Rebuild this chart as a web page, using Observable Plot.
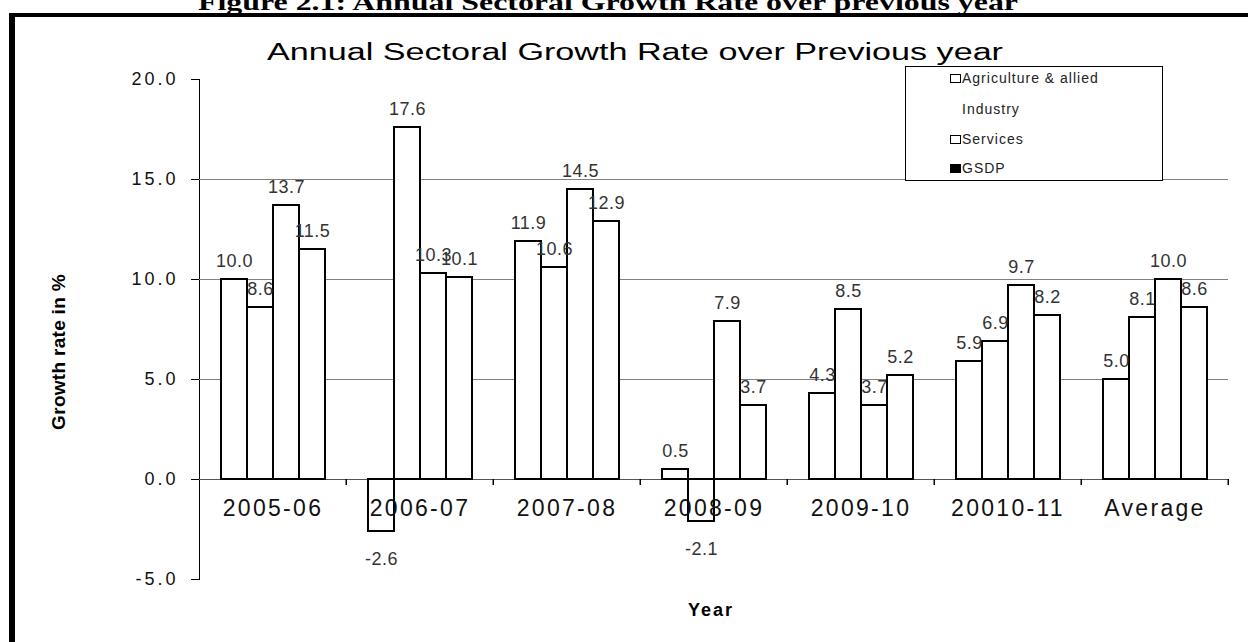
<!DOCTYPE html>
<html>
<head>
<meta charset="utf-8">
<script src="https://cdn.jsdelivr.net/npm/d3@7"></script>
<script src="https://cdn.jsdelivr.net/npm/@observablehq/plot@0.6"></script>
<style>
  body { margin: 0; background: #fff; }
  #wrap { position: relative; width: 1248px; height: 642px; overflow: hidden; background: #fff;
          font-family: "Liberation Sans", Arial, sans-serif; color: #000; }
  #chart { position: absolute; left: 0; top: 0; }
  #frame { position: absolute; left: 9px; top: 13px; width: 1400px; height: 800px;
           border-left: 6px solid #000; border-top: 4px solid #000; pointer-events: none; }
  .scaled { position: absolute; white-space: nowrap; transform-origin: 0 0; line-height: 1; }
  #figtitle { font-family: "Liberation Serif", "Times New Roman", serif; font-weight: bold; font-size: 24px; }
  #title { font-size: 23px; }
  #ytitle { position: absolute; left: 59px; top: 352px; white-space: nowrap; font-weight: bold;
            font-size: 19px; letter-spacing: 0.3px; transform: translate(-50%, -50%) rotate(-90deg); }
  #xtitle { position: absolute; left: 711px; top: 610px; white-space: nowrap; font-weight: bold;
            font-size: 18px; letter-spacing: 2px; transform: translate(-50%, -50%); }
  #legend { position: absolute; left: 905px; top: 66px; width: 256px; height: 113px;
            border: 1px solid #000; background: #fff; font-size: 14px; letter-spacing: 1px; color: #222; }
  .li { position: absolute; left: 44px; white-space: nowrap; transform: translateY(-50%); display: flex; align-items: center; }
  .sw { display: inline-block; width: 9px; height: 7px; border: 1.5px solid #000; margin-right: 1px; background: #fff; }
  .sw.none { border-color: transparent; background: transparent; }
  .sw.black { background: #000; }
  [aria-label="y-axis tick label"] text { font-size: 18px; letter-spacing: 3px; fill: #111; }
  [aria-label="y-axis tick"] { stroke: #000; }
</style>
</head>
<body>
<div id="wrap">
  <div id="chart"></div>
  <div id="figtitle" class="scaled">Figure 2.1: Annual Sectoral Growth Rate over previous year</div>
  <div id="title" class="scaled">Annual Sectoral Growth Rate over Previous year</div>
  <div id="ytitle">Growth rate in %</div>
  <div id="xtitle">Year</div>
  <div id="legend"></div>
  <div id="frame"></div>
</div>
<script>
// ---- data ----
const years = ["2005-06", "2006-07", "2007-08", "2008-09", "2009-10", "20010-11", "Average"];
const sectors = ["Agriculture & allied", "Industry", "Services", "GSDP"];
const agriculture = [10.0, -2.6, 11.9, 0.5, 4.3, 5.9, 5.0];
const industry    = [8.6, 17.6, 10.6, -2.1, 8.5, 6.9, 8.1];
const services    = [13.7, 10.3, 14.5, 7.9, 3.7, 9.7, 10.0];
const gsdp        = [11.5, 10.1, 12.9, 3.7, 5.2, 8.2, 8.6];
const yTicks = [-5, 0, 5, 10, 15, 20];
const gridValues = [5, 10, 15];
const legendMarkers = ["open", "none", "open", "black"];

const seriesValues = [agriculture, industry, services, gsdp];
const data = years.flatMap((year, i) =>
  sectors.map((sector, j) => ({year, sector, value: seriesValues[j][i]})));

// ---- layout ----
const W = 1248, H = 642, mL = 199, mR = 20, mT = 79, mB = 63;
const padOuter = 0.774;
const facetW = (W - mL - mR) / years.length;
const step = facetW / (sectors.length + 2 * padOuter);
const edgeDx = facetW - (padOuter + sectors.length - 0.5) * step;

const chart = Plot.plot({
  width: W, height: H,
  marginLeft: mL, marginRight: mR, marginTop: mT, marginBottom: mB,
  style: {background: "transparent", fontFamily: "Liberation Sans, Arial, sans-serif", overflow: "visible"},
  fx: {domain: years, padding: 0, axis: null, label: null},
  x: {domain: sectors, paddingInner: 0, paddingOuter: padOuter, axis: null, label: null},
  y: {domain: [-5, 20], ticks: yTicks, tickSize: 8, tickPadding: 13, tickFormat: d => d.toFixed(1),
      line: true, label: null, axis: "left"},
  marks: [
    Plot.ruleY(gridValues, {stroke: "#808080", strokeWidth: 1.2}),
    Plot.ruleY([0], {stroke: "#555", strokeWidth: 1.2}),
    Plot.ruleX(years, {fx: d => d, x: () => sectors[sectors.length - 1], dx: edgeDx,
                       y1: () => 0, y2: () => -0.3, stroke: "#000", strokeWidth: 1.5}),
    Plot.barY(data, {fx: "year", x: "sector", y: "value", fill: "white", stroke: "black", strokeWidth: 2}),
    Plot.text(data.filter(d => d.value >= 0), {fx: "year", x: "sector", y: "value",
      text: d => d.value.toFixed(1), dy: -18, fontSize: 18, fill: "#333"}),
    Plot.text(data.filter(d => d.value < 0), {fx: "year", x: "sector", y: "value",
      text: d => d.value.toFixed(1), dy: 28, fontSize: 18, fill: "#333"}),
    Plot.text(years, {fx: d => d, y: () => 0, text: d => d, dy: 29, fontSize: 23, fill: "#111"})
  ]
});
document.getElementById("chart").appendChild(chart);
// letter spacing for labels
chart.querySelectorAll('[aria-label="text"] text').forEach(t => {
  const s = t.textContent;
  t.style.letterSpacing = years.includes(s) ? "2.3px" : "0.5px";
});

// ---- legend ----
const legend = document.getElementById("legend");
const rowY = [11, 42, 72, 101];
sectors.forEach((s, i) => {
  const row = document.createElement("div");
  row.className = "li";
  row.style.top = rowY[i] + "px";
  const sw = document.createElement("span");
  sw.className = "sw" + (legendMarkers[i] === "none" ? " none" : legendMarkers[i] === "black" ? " black" : "");
  row.appendChild(sw);
  row.appendChild(document.createTextNode(s));
  legend.appendChild(row);
});

// ---- fit stretched titles ----
function fit(id, left, top, targetW) {
  const el = document.getElementById(id);
  el.style.left = left + "px";
  el.style.top = top + "px";
  const w = el.getBoundingClientRect().width;
  el.style.transform = `scaleX(${targetW / w})`;
}
fit("figtitle", 198, -10, 820);
fit("title", 267, 41, 736);
</script>
</body>
</html>
